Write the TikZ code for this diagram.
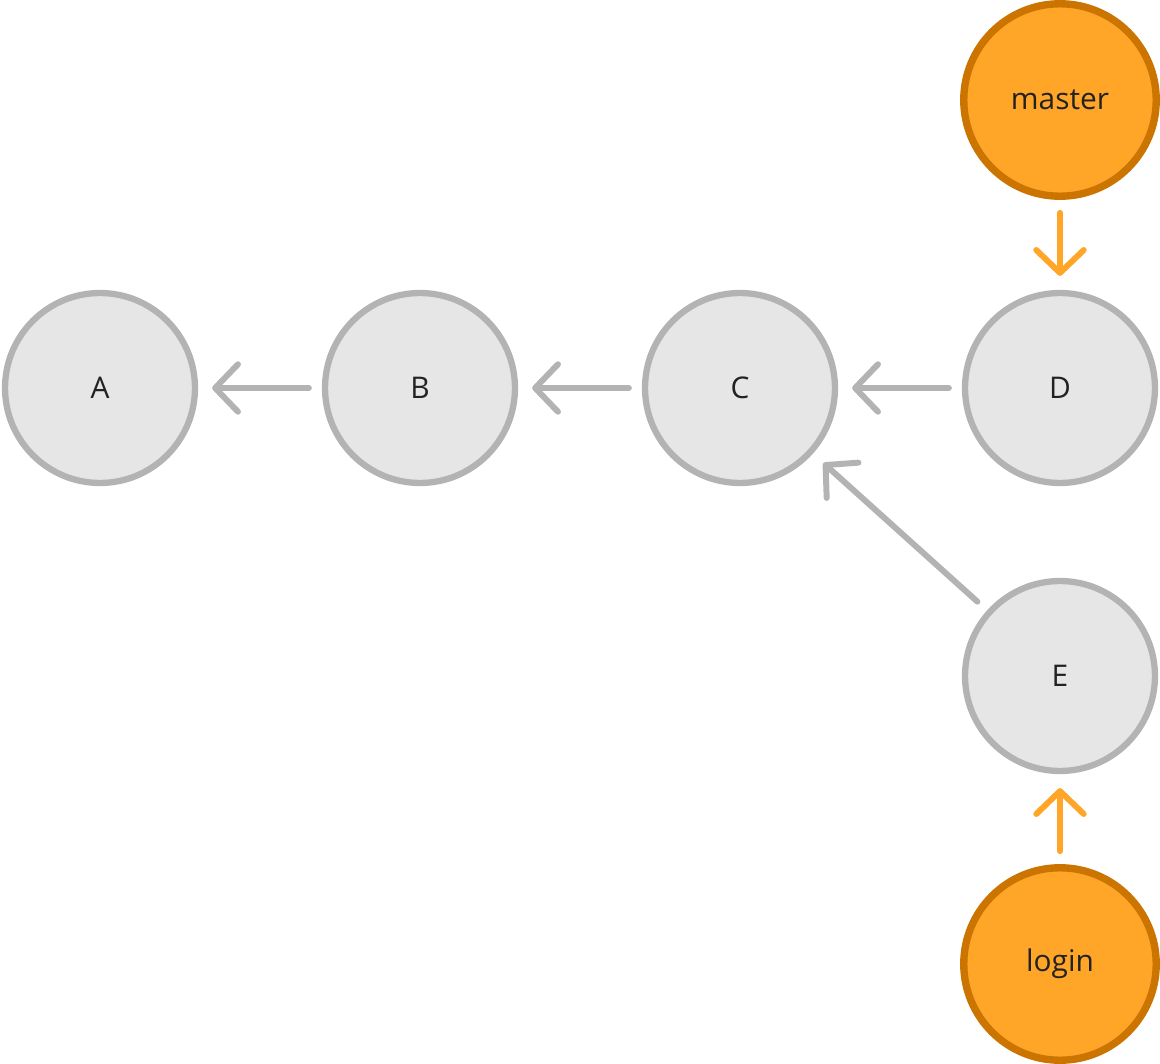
\documentclass[tikz,border=0pt]{standalone}
\usepackage{fontspec}
\setmainfont{Open Sans}
\usetikzlibrary{arrows.meta}
\definecolor{commitfill}{HTML}{E6E6E6}
\definecolor{commitline}{HTML}{B3B3B3}
\definecolor{branchfill}{HTML}{FFA629}
\definecolor{branchline}{HTML}{CC7400}
\definecolor{labeltext}{HTML}{222222}

\begin{document}
\begin{tikzpicture}[x=0.02cm, y=-0.02cm,
  commit/.style={circle, draw=commitline, fill=commitfill, line width=3.6pt,
    minimum size=3.8cm, inner sep=0pt, text=labeltext, font=\fontsize{17}{20}\selectfont},
  branch/.style={circle, draw=branchline, fill=branchfill, line width=4.2pt,
    minimum size=3.85cm, inner sep=0pt, text=labeltext, font=\fontsize{17}{20}\selectfont},
  parent/.style={draw=commitline, line width=3.4pt, line cap=round,
    -{Straight Barb[length=13pt, width=27pt, round]}, shorten <=0.26cm, shorten >=0.28cm},
  pointer/.style={parent, draw=branchfill}]
  \useasboundingbox (0,0) rectangle (1160,1064);

  % commits
  \node[commit] (A) at (100,388) {A};
  \node[commit] (B) at (420,388) {B};
  \node[commit] (C) at (740,388) {C};
  \node[commit] (D) at (1060,388) {D};
  \node[commit] (E) at (1060,676) {E};

  % branches
  \node[branch] (master) at (1060,100) {master};
  \node[branch] (login) at (1060,964) {login};

  \draw[parent] (B) -- (A);
  \draw[parent] (C) -- (B);
  \draw[parent] (D) -- (C);
  \draw[parent] (E) -- (C);

  \draw[pointer] (master) -- (D);
  \draw[pointer] (login) -- (E);
\end{tikzpicture}
\end{document}
